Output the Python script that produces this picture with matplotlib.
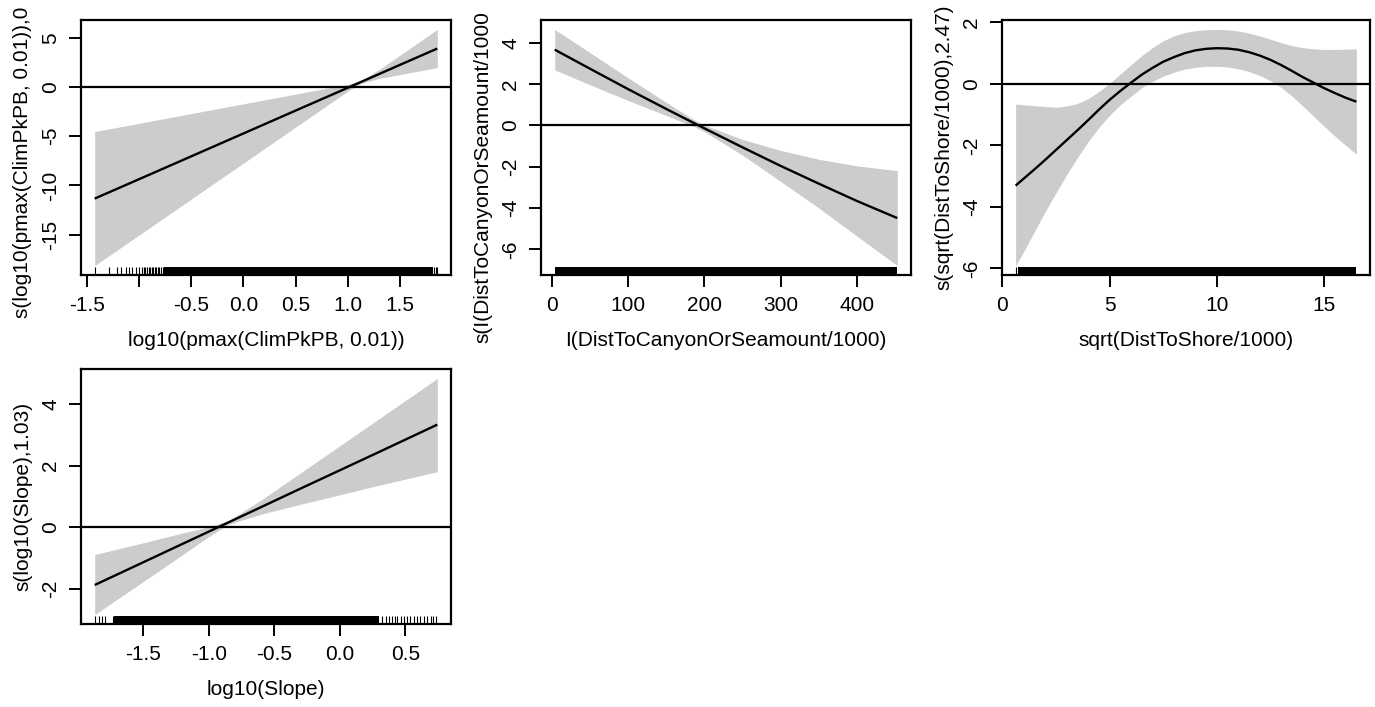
import matplotlib
matplotlib.use("Agg")
import matplotlib.pyplot as plt

plt.rcParams['font.family'] = ['Liberation Sans', 'DejaVu Sans']
FS = 15.0

# ---- s(log10(pmax(ClimPkPB, 0.01))) ----
pk_x = [-1.426, -1.0, -0.5, 0.0, 0.5, 0.8, 1.0, 1.13, 1.3, 1.5, 1.859]
pk_fit = [-11.33, -9.36, -7.04, -4.72, -2.40, -1.01, -0.085, 0.52, 1.31, 2.24, 3.90]
pk_upper = [-4.53, -3.69, -2.70, -1.71, -0.72, -0.13, 0.26, 0.67, 1.76, 3.22, 5.84]
pk_lower = [-18.13, -15.03, -11.38, -7.73, -4.08, -1.89, -0.43, 0.37, 0.86, 1.26, 1.96]
pk_rug = [-1.426, -1.288, -1.208, -1.176, -1.128, -1.096, -1.064, -1.032, -1.0,
          -0.975, -0.955, -0.94, -0.925, -0.91, -0.895, -0.88, -0.865, -0.85,
          -0.835, -0.82, -0.805, -0.79, -0.775, 1.827, 1.846, 1.859]
pk_rug_dense = [-0.76, 1.821]
pk_xticks = [-1.5, -1.0, -0.5, 0.0, 0.5, 1.0, 1.5]
pk_xticklabels = ['-1.5', '', '-0.5', '0.0', '0.5', '1.0', '1.5']
pk_yticks = [5, 0, -5, -10, -15]
pk_xlabel = 'log10(pmax(ClimPkPB, 0.01))'
pk_ylabel = 's(log10(pmax(ClimPkPB, 0.01)),0'

# ---- s(I(DistToCanyonOrSeamount/1000)) ----
cs_x = [3.9, 50, 100, 150, 185, 200, 250, 300, 350, 400, 453]
cs_fit = [3.67, 2.75, 1.76, 0.80, 0.14, -0.14, -1.06, -1.96, -2.82, -3.66, -4.49]
cs_upper = [4.65, 3.53, 2.31, 1.12, 0.31, 0.02, -0.68, -1.21, -1.64, -1.96, -2.19]
cs_lower = [2.69, 1.97, 1.21, 0.48, -0.03, -0.30, -1.44, -2.71, -4.00, -5.36, -6.79]
cs_rug = []
cs_rug_dense = [3.9, 453]
cs_xticks = [0, 100, 200, 300, 400]
cs_xticklabels = ['0', '100', '200', '300', '400']
cs_yticks = [4, 2, 0, -2, -4, -6]
cs_xlabel = 'I(DistToCanyonOrSeamount/1000)'
cs_ylabel = 's(I(DistToCanyonOrSeamount/1000'

# ---- s(sqrt(DistToShore/1000)) ----
sh_x = [0.62, 1.0, 1.5, 2.0, 2.5, 3.0, 3.5, 4.0, 4.5, 5.0, 5.5, 6.0, 6.5,
        7.0, 7.5, 8.0, 8.5, 9.0, 9.5, 10.0, 10.5, 11.0, 11.5, 12.0, 12.5,
        13.0, 13.5, 14.0, 14.5, 15.0, 15.5, 16.0, 16.5]
sh_fit = [-3.31, -3.08, -2.78, -2.47, -2.15, -1.83, -1.51, -1.18, -0.84,
          -0.52, -0.23, 0.04, 0.30, 0.52, 0.72, 0.87, 1.00, 1.09, 1.14, 1.16,
          1.15, 1.11, 1.03, 0.92, 0.78, 0.61, 0.42, 0.22, 0.04, -0.14, -0.30,
          -0.45, -0.58]
sh_upper = [-0.66, -0.68, -0.71, -0.74, -0.76, -0.72, -0.64, -0.48, -0.25,
            0.02, 0.32, 0.62, 0.92, 1.18, 1.40, 1.56, 1.67, 1.73, 1.76, 1.77,
            1.76, 1.72, 1.65, 1.56, 1.45, 1.34, 1.24, 1.18, 1.14, 1.12, 1.12,
            1.13, 1.14]
sh_lower = [-5.91, -5.45, -4.80, -4.15, -3.55, -2.95, -2.40, -1.88, -1.42,
            -1.02, -0.68, -0.40, -0.12, 0.08, 0.25, 0.38, 0.48, 0.54, 0.57,
            0.57, 0.55, 0.49, 0.40, 0.27, 0.10, -0.12, -0.40, -0.72, -1.05,
            -1.38, -1.70, -2.00, -2.29]
sh_rug = [0.62]
sh_rug_dense = [0.75, 16.5]
sh_xticks = [0, 5, 10, 15]
sh_xticklabels = ['0', '5', '10', '15']
sh_yticks = [2, 0, -2, -4, -6]
sh_xlabel = 'sqrt(DistToShore/1000)'
sh_ylabel = 's(sqrt(DistToShore/1000),2.47)'

# ---- s(log10(Slope)) ----
sl_x = [-1.87, -1.5, -1.2, -1.0, -0.85, -0.6, -0.3, 0.0, 0.3, 0.745]
sl_fit = [-1.88, -1.143, -0.545, -0.147, 0.152, 0.65, 1.25, 1.845, 2.44, 3.33]
sl_upper = [-0.89, -0.51, -0.19, 0.01, 0.21, 0.88, 1.76, 2.64, 3.52, 4.83]
sl_lower = [-2.84, -1.77, -0.90, -0.31, 0.09, 0.42, 0.74, 1.05, 1.36, 1.80]
sl_rug = [-1.87, -1.837, -1.811, -1.793, -1.734, 0.32, 0.35, 0.375, 0.40, 0.42,
          0.44, 0.47, 0.49, 0.515, 0.54, 0.566, 0.592, 0.612, 0.642, 0.668,
          0.694, 0.714, 0.737]
sl_rug_dense = [-1.722, 0.30]
sl_xticks = [-1.5, -1.0, -0.5, 0.0, 0.5]
sl_xticklabels = ['-1.5', '-1.0', '-0.5', '0.0', '0.5']
sl_yticks = [4, 2, 0, -2]
sl_xlabel = 'log10(Slope)'
sl_ylabel = 's(log10(Slope),1.03)'

W, H = 1375, 707
fig = plt.figure(figsize=(W / 100, H / 100), dpi=100)


def add_panel(px_left, px_top, px_right, px_bottom):
    return fig.add_axes([px_left / W, 1 - px_bottom / H,
                         (px_right - px_left) / W, (px_bottom - px_top) / H])


def padded(lo, hi, frac=0.04):
    d = (hi - lo) * frac
    return lo - d, hi + d


def draw_smooth(ax, x, fit, upper, lower, rug, rug_dense, xticks, xticklabels,
                yticks, xlabel, ylabel, ylabel_pos, ylabel_va):
    ax.fill_between(x, lower, upper, color='#cccccc', lw=0, zorder=1)
    ax.plot(x, fit, color='black', lw=1.7, zorder=3, solid_capstyle='butt',
            solid_joinstyle='round')
    ax.axhline(0, color='black', lw=1.6, zorder=2)
    # rug of observed covariate values
    xt = ax.get_xaxis_transform()
    if rug:
        ax.vlines(rug, 0, 0.03, transform=xt, color='black', lw=0.8, zorder=4)
    ax.axvspan(rug_dense[0], rug_dense[1], ymin=0, ymax=0.03, color='black',
               lw=0, zorder=4)

    ax.set_xlim(*padded(min(x), max(x)))
    ax.set_ylim(*padded(min(lower), max(upper)))

    ax.set_xticks(xticks)
    ax.set_xticklabels(xticklabels)
    ax.set_yticks(yticks)
    ax.set_yticklabels([str(v) for v in yticks])
    ax.tick_params(axis='both', direction='out', length=8.6, width=1.4,
                   color='black', labelsize=FS)
    ax.tick_params(axis='x', pad=6.5)
    ax.tick_params(axis='y', pad=6.5, labelrotation=90)
    for lab in ax.get_yticklabels():
        lab.set_va('center')
    for sp in ax.spines.values():
        sp.set_linewidth(1.6)
        sp.set_color('black')
        sp.set_zorder(5)

    ax.text(0.5, -0.255, xlabel, transform=ax.transAxes, ha='center',
            va='center', fontsize=FS)
    ax.text(-0.158, ylabel_pos, ylabel, transform=ax.transAxes, rotation=90,
            ha='center', va=ylabel_va, fontsize=FS, clip_on=False)


ax1 = add_panel(81, 20, 451, 275)
draw_smooth(ax1, pk_x, pk_fit, pk_upper, pk_lower, pk_rug, pk_rug_dense,
            pk_xticks, pk_xticklabels, pk_yticks, pk_xlabel, pk_ylabel,
            -43 / 255, 'bottom')

ax2 = add_panel(541, 20, 911, 275)
draw_smooth(ax2, cs_x, cs_fit, cs_upper, cs_lower, cs_rug, cs_rug_dense,
            cs_xticks, cs_xticklabels, cs_yticks, cs_xlabel, cs_ylabel,
            -68 / 255, 'bottom')

ax3 = add_panel(1002, 20, 1370, 275)
draw_smooth(ax3, sh_x, sh_fit, sh_upper, sh_lower, sh_rug, sh_rug_dense,
            sh_xticks, sh_xticklabels, sh_yticks, sh_xlabel, sh_ylabel,
            -15 / 255, 'bottom')

ax4 = add_panel(81, 369, 451, 624)
draw_smooth(ax4, sl_x, sl_fit, sl_upper, sl_lower, sl_rug, sl_rug_dense,
            sl_xticks, sl_xticklabels, sl_yticks, sl_xlabel, sl_ylabel,
            0.5, 'center')

fig.savefig('out.png', dpi=100, facecolor='white')
